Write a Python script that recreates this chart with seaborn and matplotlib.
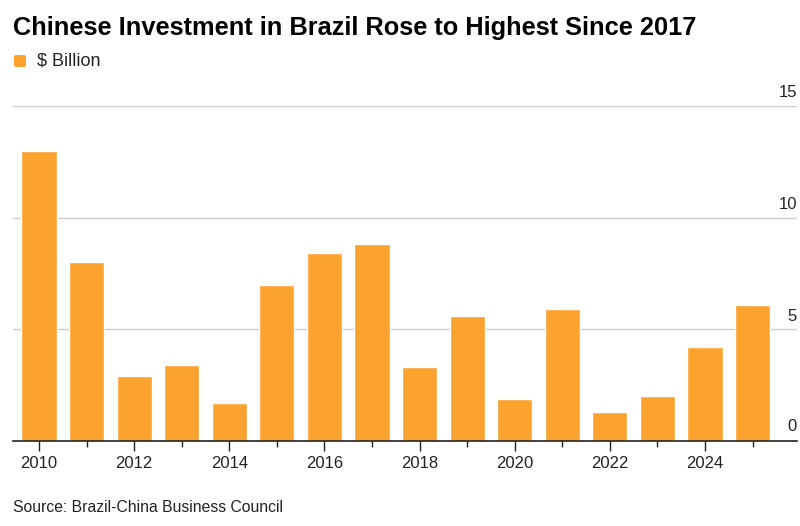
import matplotlib
matplotlib.use("Agg")
import matplotlib.pyplot as plt
from matplotlib.patches import FancyBboxPatch
import pandas as pd
import seaborn as sns

years = [2010, 2011, 2012, 2013, 2014, 2015, 2016, 2017,
         2018, 2019, 2020, 2021, 2022, 2023, 2024, 2025]
investment = [13.0, 8.0, 2.9, 3.4, 1.7, 7.0, 8.4, 8.8,
              3.3, 5.6, 1.9, 5.9, 1.3, 2.0, 4.2, 6.1]
y_ticks = [0, 5, 10, 15]

df = pd.DataFrame({"Year": [str(y) for y in years], "Value": investment})

orange = "#FBA22F"

sns.set_theme(style="white")
plt.rcParams["font.family"] = ["Liberation Sans", "DejaVu Sans"]

fig = plt.figure(figsize=(8, 5.26), dpi=100)
W, H = 800, 526
ax = fig.add_axes([13 / W, 85 / H, 784 / W, 335 / H])

sns.barplot(data=df, x="Year", y="Value", color=orange, width=0.74,
            saturation=1, ax=ax)

ax.set_xlim(-0.547, 15.934)
ax.set_ylim(0, 15)

# gridlines with labels sitting above them at the right edge
for v in y_ticks:
    if v > 0:
        ax.axhline(v, color="#CCCCCC", lw=1, zorder=0)
    ax.annotate(str(v), xy=(1.0, v), xycoords=ax.get_yaxis_transform(),
                xytext=(0, 4 if v > 0 else 5), textcoords="offset points",
                ha="right", va="bottom", fontsize=12, color="#222222")
ax.set_yticks([])

major = list(range(0, len(years), 2))
minor = list(range(1, len(years), 2))
ax.set_xticks(major)
ax.set_xticklabels([str(years[i]) for i in major], fontsize=12, color="#222222")
ax.set_xticks(minor, minor=True)
ax.tick_params(axis="x", which="major", length=7, width=1, color="#222222",
               direction="out", pad=4, bottom=True)
ax.tick_params(axis="x", which="minor", length=4, width=1, color="#222222",
               direction="out", bottom=True)
ax.set_xlabel("")
ax.set_ylabel("")

for side in ["top", "right", "left"]:
    ax.spines[side].set_visible(False)
ax.spines["bottom"].set_color("#222222")
ax.spines["bottom"].set_linewidth(1.2)

fig.text(13 / W, 1 - 35 / H, "Chinese Investment in Brazil Rose to Highest Since 2017",
         fontsize=18.3, fontweight="bold", color="#000000", ha="left", va="baseline")

fig.patches.append(FancyBboxPatch((14 / W, 1 - 67 / H), 12 / W, 12 / H,
                                  boxstyle="round,pad=0,rounding_size=0.003",
                                  transform=fig.transFigure, facecolor=orange,
                                  edgecolor="none"))
fig.text(37 / W, 1 - 61 / H, "$ Billion", fontsize=13, color="#222222",
         ha="left", va="center")

fig.text(13 / W, 1 - 507 / H, "Source: Brazil-China Business Council",
         fontsize=11.3, color="#222222", ha="left", va="center")

fig.savefig("out.png", dpi=100, facecolor="white")
